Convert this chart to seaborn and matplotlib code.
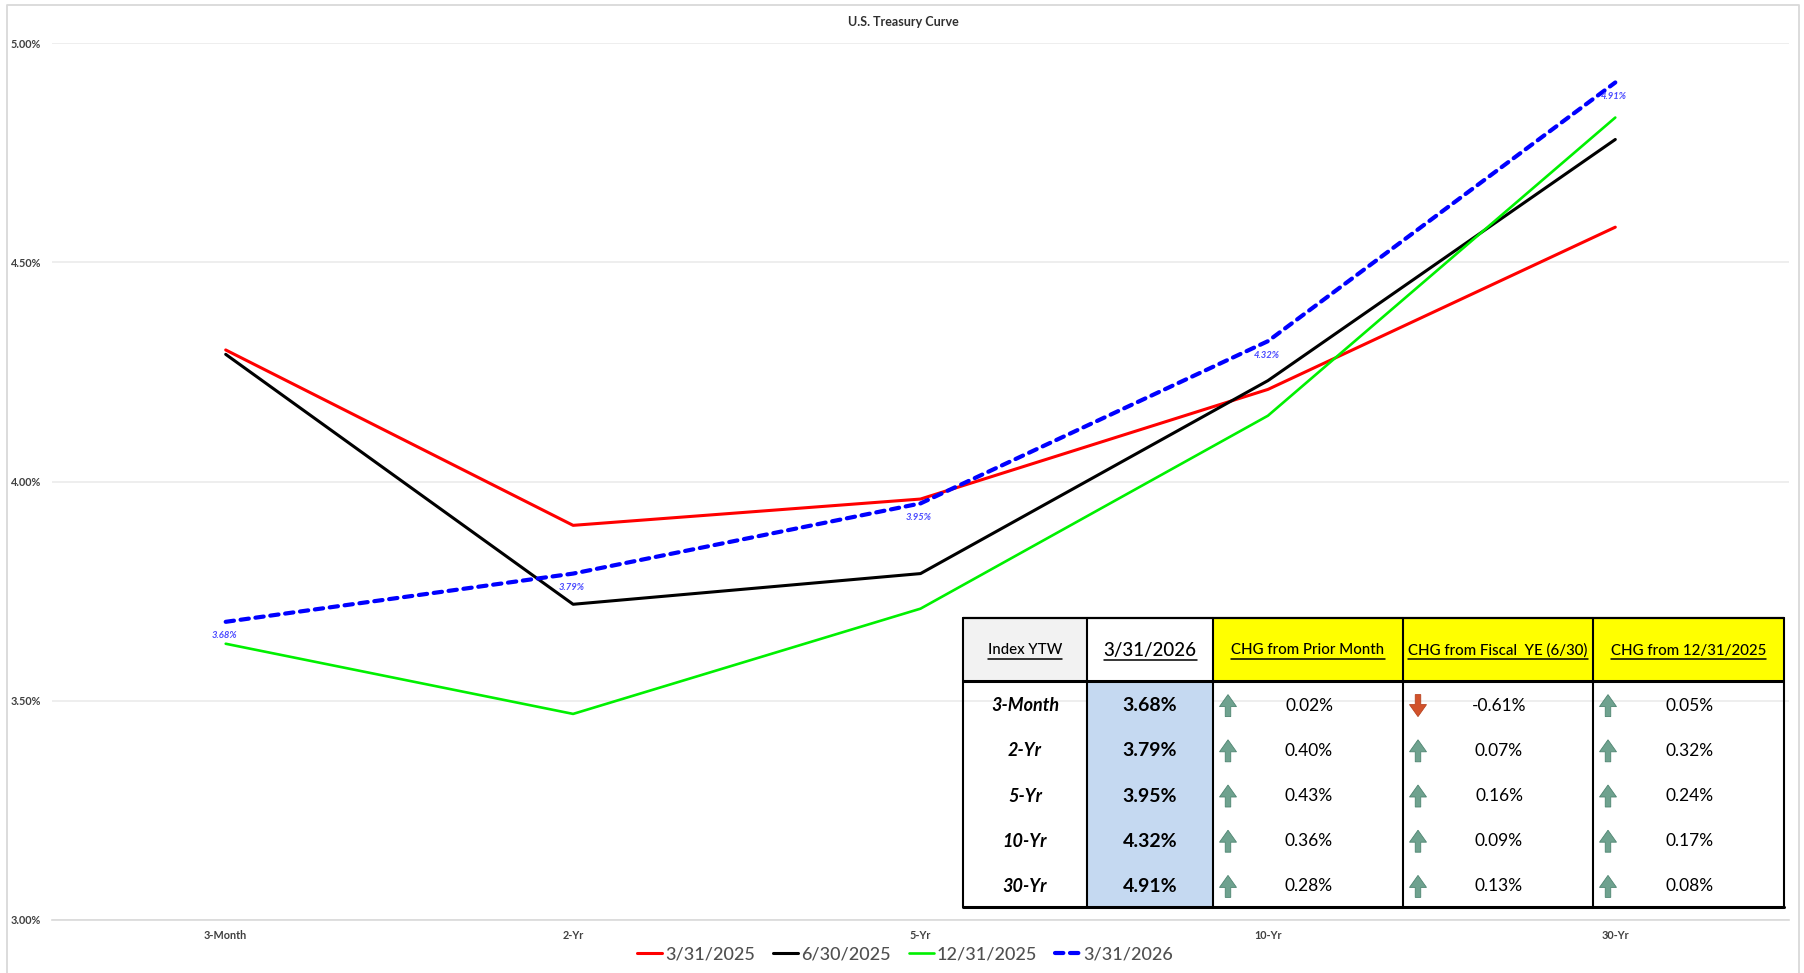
import matplotlib
matplotlib.use("Agg")
import matplotlib.pyplot as plt
import seaborn as sns
from matplotlib.lines import Line2D
from matplotlib.patches import FancyArrow, Rectangle
from matplotlib.ticker import FuncFormatter, FixedLocator

# Treasury yields (%) by maturity
maturities = ["3-Month", "2-Yr", "5-Yr", "10-Yr", "30-Yr"]
yields_mar_2025 = [4.30, 3.90, 3.96, 4.21, 4.58]
yields_jun_2025 = [4.29, 3.72, 3.79, 4.23, 4.78]
yields_dec_2025 = [3.63, 3.47, 3.71, 4.15, 4.83]
yields_mar_2026 = [3.68, 3.79, 3.95, 4.32, 4.91]

# Change columns for the summary table (percentage points)
chg_prior_month = [0.02, 0.40, 0.43, 0.36, 0.28]
chg_fiscal_ye = [-0.61, 0.07, 0.16, 0.09, 0.13]
chg_dec_2025 = [0.05, 0.32, 0.24, 0.17, 0.08]
table_headers = ["Index YTW", "3/31/2026", "CHG from Prior Month",
                 "CHG from Fiscal  YE (6/30)", "CHG from 12/31/2025"]

W, H = 1804, 973
sns.set_theme(style="white")
plt.rcParams["font.family"] = ["Lato", "DejaVu Sans"]

fig = plt.figure(figsize=(W / 100, H / 100), dpi=100, facecolor="white")

# Outer chart frame, left open at the bottom edge
frame_x = [7 / W, 7 / W, 1799 / W, 1799 / W]
frame_y = [0, 1 - 5 / H, 1 - 5 / H, 0]
fig.add_artist(Line2D(frame_x, frame_y, color="#D9D9D9", lw=1.3))

ax = fig.add_axes([52 / W, 1 - 920 / H, (1789 - 52) / W, (920 - 43) / H])
ax.set_facecolor("white")

series = [
    ("3/31/2025", yields_mar_2025, "#FF0000", 2.2, "-"),
    ("6/30/2025", yields_jun_2025, "#000000", 2.2, "-"),
    ("12/31/2025", yields_dec_2025, "#00F000", 1.9, "-"),
    ("3/31/2026", yields_mar_2026, "#0000FF", 3.0, (0, (2.0, 1.6))),
]
for name, values, color, width, style in series:
    sns.lineplot(x=maturities, y=values, color=color, lw=width, linestyle=style,
                 label=name, sort=False, errorbar=None, ax=ax,
                 solid_capstyle="round", dash_capstyle="round")

ax.set_xlim(-0.5, 4.5)
ax.set_ylim(3.0, 5.0)
ax.set_yticks([3.0, 3.5, 4.0, 4.5, 5.0])
ax.yaxis.set_major_formatter(FuncFormatter(lambda v, _: f"{v:.2f}%"))
ax.grid(axis="y", color="#EBEBEB", lw=1.2)
ax.set_axisbelow(True)
for side in ["top", "left", "right"]:
    ax.spines[side].set_visible(False)
ax.spines["bottom"].set_color("#D9D9D9")
ax.spines["bottom"].set_linewidth(1.2)
ax.set_xlabel("")
ax.set_ylabel("")
ax.tick_params(axis="y", length=0, pad=8, labelsize=7.8, labelcolor="#404040")
ax.tick_params(axis="x", which="major", length=0, pad=7, labelsize=7.8, labelcolor="#404040")
ax.xaxis.set_minor_locator(FixedLocator([-0.5, 0.5, 1.5, 2.5, 3.5, 4.5]))
ax.tick_params(axis="x", which="minor", length=3, width=1, color="#D9D9D9")
for label in ax.get_xticklabels() + ax.get_yticklabels():
    label.set_fontweight("bold")

# Value labels under the latest curve
for i, value in enumerate(yields_mar_2026):
    ax.annotate(f"{value:.2f}%", (i, value), xytext=(-1, -10), textcoords="offset points",
                ha="center", va="center", fontsize=6.8, fontstyle="italic",
                fontweight="bold", color="#4A4AFF")

fig.text(903 / W, 1 - 22 / H, "U.S. Treasury Curve", ha="center", va="center",
         fontsize=9, fontweight="bold", color="#303030")

handles, labels = ax.get_legend_handles_labels()
ax.get_legend().remove()
fig.legend(handles, labels, ncol=4, loc="center", bbox_to_anchor=(905 / W, 1 - 954 / H),
           frameon=False, labelcolor="#505050", handlelength=1.4,
           handletextpad=0.15, columnspacing=1.0,
           prop={"size": 13, "weight": "medium"})

# Summary table, laid out in pixel units measured from its lower-left corner
tx0, tx1, ty0, ty1 = 963, 1784, 618, 907
col_edges = [x - tx0 for x in (963, 1087, 1213, 1403, 1593, 1784)]
table_w, table_h = tx1 - tx0, ty1 - ty0
header_h = 63
row_h = (table_h - header_h) / 5

tab_ax = fig.add_axes([tx0 / W, 1 - ty1 / H, table_w / W, table_h / H])
tab_ax.set_xlim(0, table_w)
tab_ax.set_ylim(0, table_h)
tab_ax.axis("off")

header_fills = ["#F2F2F2", "#FFFFFF", "#FFFF00", "#FFFF00", "#FFFF00"]
header_texts = []
for c, (label, fill) in enumerate(zip(table_headers, header_fills)):
    x0, x1 = col_edges[c], col_edges[c + 1]
    tab_ax.add_patch(Rectangle((x0, table_h - header_h), x1 - x0, header_h, facecolor=fill,
                               edgecolor="none", zorder=1))
    header_texts.append(tab_ax.text((x0 + x1) / 2, table_h - header_h / 2 - 1, label,
                                    ha="center", va="center", color="black",
                                    fontsize=13.5 if c == 1 else 10.8, fontweight="medium",
                                    zorder=4))
tab_ax.add_patch(Rectangle((col_edges[1], 0), col_edges[2] - col_edges[1], table_h - header_h,
                           facecolor="#C5D9F1", edgecolor="none", zorder=1))

columns = [chg_prior_month, chg_fiscal_ye, chg_dec_2025]
for r, mat in enumerate(maturities):
    yc = row_h * (4.5 - r)
    ty = yc - 2
    tab_ax.text((col_edges[0] + col_edges[1]) / 2, ty, mat, ha="center", va="center",
                fontsize=13, fontstyle="italic", fontweight="bold", color="black", zorder=4)
    tab_ax.text((col_edges[1] + col_edges[2]) / 2, ty, f"{yields_mar_2026[r]:.2f}%", ha="center",
                va="center", fontsize=14, fontweight="bold", color="black", zorder=4)
    for c, changes in zip([2, 3, 4], columns):
        change = changes[r]
        tab_ax.text((col_edges[c] + col_edges[c + 1]) / 2 + 1, ty, f"{change:.2f}%", ha="center",
                    va="center", fontsize=12.5, color="black", zorder=4)
        # Up or down marker beside each change figure
        up = change >= 0
        direction = 1 if up else -1
        tab_ax.add_patch(FancyArrow(
            col_edges[c] + 15, ty - direction * 11, 0, direction * 22, width=5.5, head_width=17,
            head_length=12, length_includes_head=True,
            facecolor="#6FA28F" if up else "#D2522B",
            edgecolor="#4E8571" if up else "#B8431F", lw=0.6, zorder=5))

# Underlines for the header labels
fig.canvas.draw()
renderer = fig.canvas.get_renderer()
to_axes = tab_ax.transData.inverted()
for label in header_texts:
    bb = label.get_window_extent(renderer)
    (xa, ya), (xb, _) = to_axes.transform([(bb.x0, bb.y0 - 1), (bb.x1, bb.y0 - 1)])
    tab_ax.plot([xa, xb], [ya, ya], color="black", lw=1.1, zorder=6)
tab_ax.set_xlim(0, table_w)
tab_ax.set_ylim(0, table_h)

# Column rules, then heavier rules between header and body and around the table
for x in col_edges:
    tab_ax.axvline(x, color="black", lw=1.5, zorder=6, clip_on=False)
tab_ax.axhline(table_h - header_h, color="black", lw=2.2, zorder=6)
tab_ax.axhline(0, color="black", lw=2.2, zorder=6, clip_on=False)
tab_ax.axhline(table_h, color="black", lw=1.6, zorder=6, clip_on=False)

fig.savefig("out.png", dpi=100, facecolor="white")
